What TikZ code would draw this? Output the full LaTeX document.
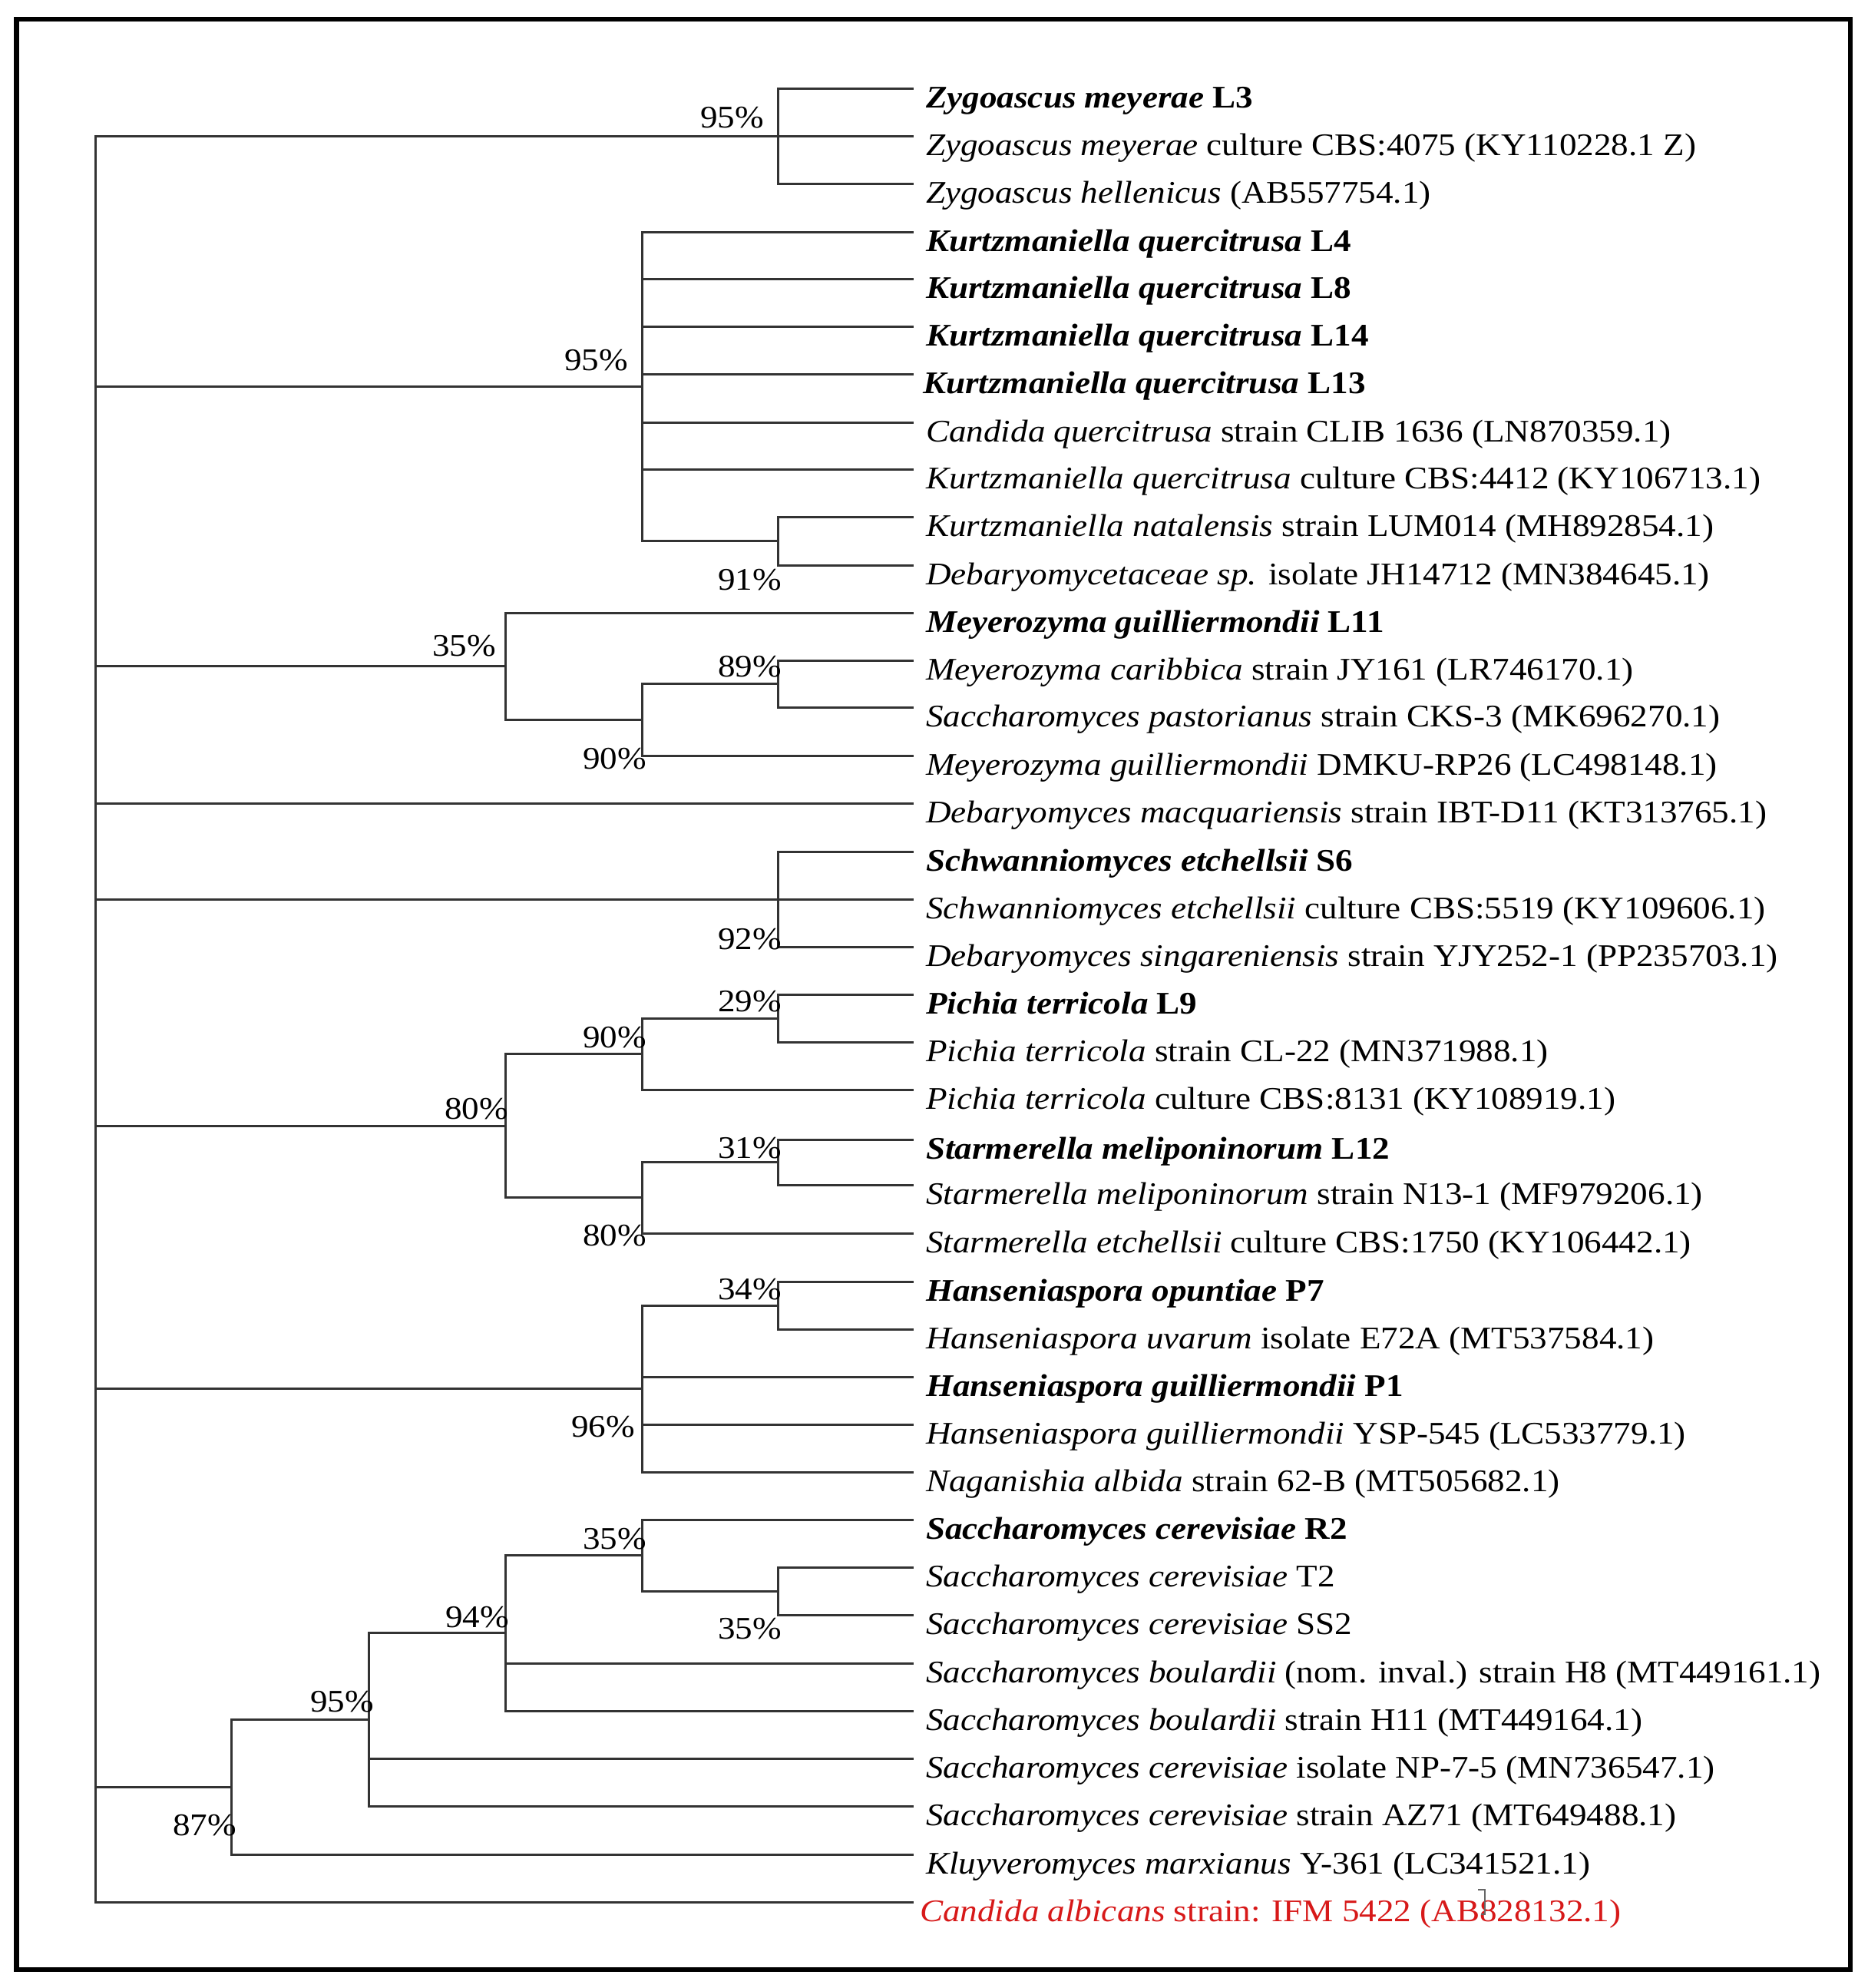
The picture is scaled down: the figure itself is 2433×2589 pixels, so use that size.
\documentclass[tikz,border=0pt]{standalone}
\usepackage{fontspec}
\setmainfont{Liberation Serif}[FakeStretch=1.1]
\usetikzlibrary{calc}
\definecolor{refred}{RGB}{215,25,25}
\begin{document}
\begin{tikzpicture}[x=1pt,y=-1pt,
  br/.style={draw=black!80, line width=3pt},
  leaf/.style={anchor=base west, inner sep=0pt, font=\fontsize{41}{48}\selectfont},
  boot/.style={anchor=base east, inner sep=0pt, font=\fontsize{41}{48}\selectfont},
  frame/.style={draw=black, line width=6.5pt}]
\useasboundingbox (0,0) rectangle (2433,2589);
\fill[white] (0,0) rectangle (2433,2589);
\draw[frame] (21.5,25) rectangle (2410,2565);

% leaf ends
\foreach \n/\yy in {1/115,2/177,3/239,4/302,5/363,6/425,7/487,8/550,9/611,10/673,
  11/736,12/798,13/860,14/921,15/984,16/1046,17/1109,18/1171,19/1233,20/1295,
  21/1357,22/1419,23/1484,24/1543,25/1606,26/1669,27/1731,28/1793,29/1855,30/1917,
  31/1979,32/2041,33/2103,34/2166,35/2228,36/2290,37/2352,38/2415,39/2477}
  \coordinate (l\n) at (1190,\yy);

% internal nodes
\coordinate (root) at (124.5,1327);
\coordinate (nZ) at (1013,177);
\coordinate (nK91) at (1013,704.5);
\coordinate (nK) at (836,503.25);
\coordinate (nM89) at (1013,890.5);
\coordinate (nM90) at (836,937.25);
\coordinate (nM35) at (658,867.6);
\coordinate (nS92) at (1013,1171);
\coordinate (nP29) at (1013,1326);
\coordinate (nP90) at (836,1372.5);
\coordinate (nS31) at (1013,1513.5);
\coordinate (nS80) at (836,1559.75);
\coordinate (nB80) at (658,1466.1);
\coordinate (nH34) at (1013,1700);
\coordinate (nH96) at (836,1808.5);
\coordinate (nC35b) at (1013,2072);
\coordinate (nC35a) at (836,2025.5);
\coordinate (nC94) at (658,2126.75);
\coordinate (nC95) at (480,2239.4);
\coordinate (nC87) at (301,2327.2);

% branches
\foreach \c in {nZ,nK,nM35,l16,nS92,nB80,nH96,nC87,l39} \draw[br] (root) |- (\c);
\foreach \c in {l1,l2,l3} \draw[br] (nZ) |- (\c);
\foreach \c in {l4,l5,l6,l7,l8,l9,nK91} \draw[br] (nK) |- (\c);
\foreach \c in {l10,l11} \draw[br] (nK91) |- (\c);
\foreach \c in {l12,nM90} \draw[br] (nM35) |- (\c);
\foreach \c in {nM89,l15} \draw[br] (nM90) |- (\c);
\foreach \c in {l13,l14} \draw[br] (nM89) |- (\c);
\foreach \c in {l17,l18,l19} \draw[br] (nS92) |- (\c);
\foreach \c in {nP90,nS80} \draw[br] (nB80) |- (\c);
\foreach \c in {nP29,l22} \draw[br] (nP90) |- (\c);
\foreach \c in {l20,l21} \draw[br] (nP29) |- (\c);
\foreach \c in {nS31,l25} \draw[br] (nS80) |- (\c);
\foreach \c in {l23,l24} \draw[br] (nS31) |- (\c);
\foreach \c in {nH34,l28,l29,l30} \draw[br] (nH96) |- (\c);
\foreach \c in {l26,l27} \draw[br] (nH34) |- (\c);
\foreach \c in {nC95,l38} \draw[br] (nC87) |- (\c);
\foreach \c in {nC94,l36,l37} \draw[br] (nC95) |- (\c);
\foreach \c in {nC35a,l34,l35} \draw[br] (nC94) |- (\c);
\foreach \c in {l31,nC35b} \draw[br] (nC35a) |- (\c);
\foreach \c in {l32,l33} \draw[br] (nC35b) |- (\c);

% leaf labels
\node[leaf] (t1) at ([xshift=16pt,yshift=-25pt]l1) {\textbf{\textit{Zygoascus meyerae} L3}};
\node[leaf] (t2) at ([xshift=16pt,yshift=-25pt]l2) {\textit{Zygoascus meyerae} culture CBS:4075 (KY110228.1 Z)};
\node[leaf] (t3) at ([xshift=16pt,yshift=-25pt]l3) {\textit{Zygoascus hellenicus} (AB557754.1)};
\node[leaf] (t4) at ([xshift=16pt,yshift=-25pt]l4) {\textbf{\textit{Kurtzmaniella quercitrusa} L4}};
\node[leaf] (t5) at ([xshift=16pt,yshift=-25pt]l5) {\textbf{\textit{Kurtzmaniella quercitrusa} L8}};
\node[leaf] (t6) at ([xshift=16pt,yshift=-25pt]l6) {\textbf{\textit{Kurtzmaniella quercitrusa} L14}};
\node[leaf] (t7) at ([xshift=12pt,yshift=-25pt]l7) {\textbf{\textit{Kurtzmaniella quercitrusa} L13}};
\node[leaf] (t8) at ([xshift=16pt,yshift=-25pt]l8) {\textit{Candida quercitrusa} strain CLIB 1636 (LN870359.1)};
\node[leaf] (t9) at ([xshift=16pt,yshift=-25pt]l9) {\textit{Kurtzmaniella quercitrusa} culture CBS:4412 (KY106713.1)};
\node[leaf] (t10) at ([xshift=16pt,yshift=-25pt]l10) {\textit{Kurtzmaniella natalensis} strain LUM014 (MH892854.1)};
\node[leaf] (t11) at ([xshift=16pt,yshift=-25pt]l11) {\textit{Debaryomycetaceae sp.} isolate JH14712 (MN384645.1)};
\node[leaf] (t12) at ([xshift=16pt,yshift=-25pt]l12) {\textbf{\textit{Meyerozyma guilliermondii} L11}};
\node[leaf] (t13) at ([xshift=16pt,yshift=-25pt]l13) {\textit{Meyerozyma caribbica} strain JY161 (LR746170.1)};
\node[leaf] (t14) at ([xshift=16pt,yshift=-25pt]l14) {\textit{Saccharomyces pastorianus} strain CKS-3 (MK696270.1)};
\node[leaf] (t15) at ([xshift=16pt,yshift=-25pt]l15) {\textit{Meyerozyma guilliermondii} DMKU-RP26 (LC498148.1)};
\node[leaf] (t16) at ([xshift=16pt,yshift=-25pt]l16) {\textit{Debaryomyces macquariensis} strain IBT-D11 (KT313765.1)};
\node[leaf] (t17) at ([xshift=16pt,yshift=-25pt]l17) {\textbf{\textit{Schwanniomyces etchellsii} S6}};
\node[leaf] (t18) at ([xshift=16pt,yshift=-25pt]l18) {\textit{Schwanniomyces etchellsii} culture CBS:5519 (KY109606.1)};
\node[leaf] (t19) at ([xshift=16pt,yshift=-25pt]l19) {\textit{Debaryomyces singareniensis} strain YJY252-1 (PP235703.1)};
\node[leaf] (t20) at ([xshift=16pt,yshift=-25pt]l20) {\textbf{\textit{Pichia terricola} L9}};
\node[leaf] (t21) at ([xshift=16pt,yshift=-25pt]l21) {\textit{Pichia terricola} strain CL-22 (MN371988.1)};
\node[leaf] (t22) at ([xshift=16pt,yshift=-25pt]l22) {\textit{Pichia terricola} culture CBS:8131 (KY108919.1)};
\node[leaf] (t23) at ([xshift=16pt,yshift=-25pt]l23) {\textbf{\textit{Starmerella meliponinorum} L12}};
\node[leaf] (t24) at ([xshift=16pt,yshift=-25pt]l24) {\textit{Starmerella meliponinorum} strain N13-1 (MF979206.1)};
\node[leaf] (t25) at ([xshift=16pt,yshift=-25pt]l25) {\textit{Starmerella etchellsii} culture CBS:1750 (KY106442.1)};
\node[leaf] (t26) at ([xshift=16pt,yshift=-25pt]l26) {\textbf{\textit{Hanseniaspora opuntiae} P7}};
\node[leaf] (t27) at ([xshift=16pt,yshift=-25pt]l27) {\textit{Hanseniaspora uvarum} isolate E72A (MT537584.1)};
\node[leaf] (t28) at ([xshift=16pt,yshift=-25pt]l28) {\textbf{\textit{Hanseniaspora guilliermondii} P1}};
\node[leaf] (t29) at ([xshift=16pt,yshift=-25pt]l29) {\textit{Hanseniaspora guilliermondii} YSP-545 (LC533779.1)};
\node[leaf] (t30) at ([xshift=16pt,yshift=-25pt]l30) {\textit{Naganishia albida} strain 62-B (MT505682.1)};
\node[leaf] (t31) at ([xshift=16pt,yshift=-25pt]l31) {\textbf{\textit{Saccharomyces cerevisiae} R2}};
\node[leaf] (t32) at ([xshift=16pt,yshift=-25pt]l32) {\textit{Saccharomyces cerevisiae} T2};
\node[leaf] (t33) at ([xshift=16pt,yshift=-25pt]l33) {\textit{Saccharomyces cerevisiae} SS2};
\node[leaf] (t34) at ([xshift=16pt,yshift=-25pt]l34) {\textit{Saccharomyces boulardii} (nom. inval.) strain H8 (MT449161.1)};
\node[leaf] (t35) at ([xshift=16pt,yshift=-25pt]l35) {\textit{Saccharomyces boulardii} strain H11 (MT449164.1)};
\node[leaf] (t36) at ([xshift=16pt,yshift=-25pt]l36) {\textit{Saccharomyces cerevisiae} isolate NP-7-5 (MN736547.1)};
\node[leaf] (t37) at ([xshift=16pt,yshift=-25pt]l37) {\textit{Saccharomyces cerevisiae} strain AZ71 (MT649488.1)};
\node[leaf] (t38) at ([xshift=16pt,yshift=-25pt]l38) {\textit{Kluyveromyces marxianus} Y-361 (LC341521.1)};
\node[leaf, text=refred] (t39) at ([xshift=8pt,yshift=-25pt]l39) {\textit{Candida albicans} strain: IFM 5422 (AB828132.1)};
\draw[black!60, line width=2pt] (1925,2461) -- (1934,2461) -- (1934,2493) -- (1929,2493);

% bootstrap labels
\node[boot] (b1) at (995,166) {95\%};
\node[boot] (b2) at (818,482) {95\%};
\node[boot] (b3) at (1018,768) {91\%};
\node[boot] (b4) at (646,854) {35\%};
\node[boot] (b5) at (1018,881) {89\%};
\node[boot] (b6) at (842,1001) {90\%};
\node[boot] (b7) at (1018,1236) {92\%};
\node[boot] (b8) at (1018,1317) {29\%};
\node[boot] (b9) at (842,1364) {90\%};
\node[boot] (b10) at (662,1457) {80\%};
\node[boot] (b11) at (1018,1508) {31\%};
\node[boot] (b12) at (842,1622) {80\%};
\node[boot] (b13) at (1018,1692) {34\%};
\node[boot] (b14) at (827,1871) {96\%};
\node[boot] (b15) at (842,2017) {35\%};
\node[boot] (b16) at (1018,2134) {35\%};
\node[boot] (b17) at (663,2119) {94\%};
\node[boot] (b18) at (487,2229) {95\%};
\node[boot] (b19) at (308,2390) {87\%};
\end{tikzpicture}
\end{document}
